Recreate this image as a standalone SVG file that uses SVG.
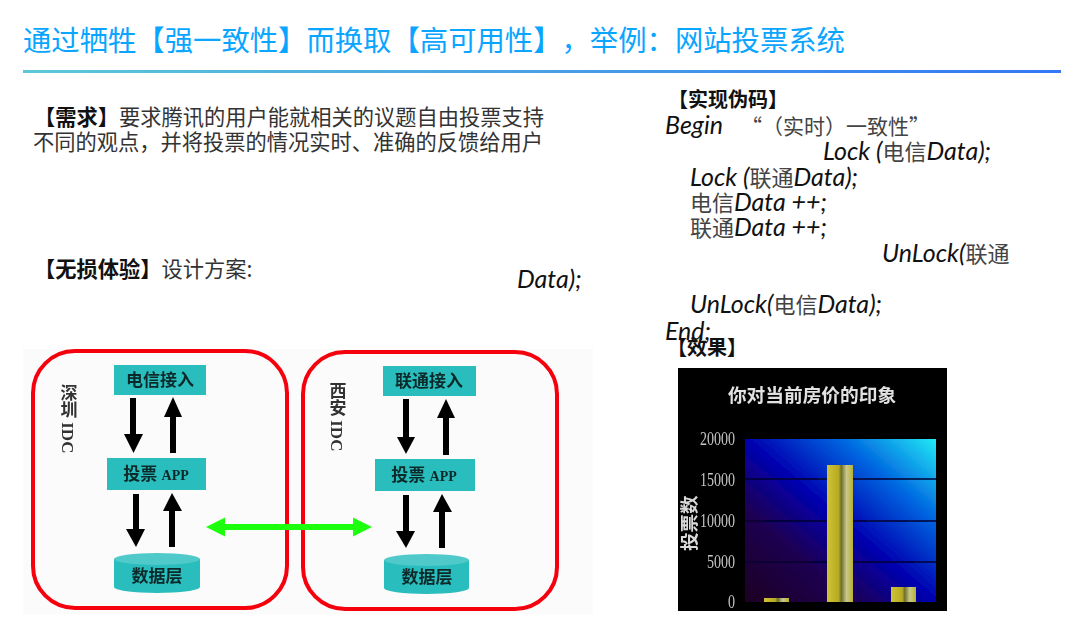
<svg xmlns="http://www.w3.org/2000/svg" width="1080" height="623" viewBox="0 0 1080 623" xml:lang="zh-CN">
<style>
text{font-family:"Noto Sans CJK SC","Liberation Sans",sans-serif;text-spacing-trim:space-all}
.title{font-size:28.35px;fill:#0aa5ff}
.body{font-size:21.25px;fill:#333}
.b{font-weight:700;fill:#111}
.hdg{font-size:20px;font-weight:700;fill:#111}
.hand{font-family:"Lato","Noto Sans CJK SC",sans-serif;font-style:italic;font-size:25px;fill:#111}
.hz{font-style:normal;fill:#444;font-family:"Noto Sans CJK SC",sans-serif;font-size:22px}
.box{fill:#2bbdbd}
.ntext{font-size:17px;font-weight:700;fill:#0c2a2a;text-anchor:middle;font-family:"Liberation Serif","Noto Sans CJK SC",serif}
.app{font-size:14px}
.vl{font-family:"Liberation Serif","Noto Sans CJK SC",serif;font-size:17px;font-weight:700;fill:#333;writing-mode:vertical-rl}
.zone{fill:none;stroke:#f5000f;stroke-width:4}
.tick{font-family:"Liberation Serif",serif;font-size:19px;fill:#c4c4c4;text-anchor:end}
.grid{stroke:#000030;stroke-width:1.6}
.bk{stroke:#000;stroke-width:6;fill:none}
.hd{fill:#000}
</style>
<defs>
<linearGradient id="rule" x1="0" x2="1" y1="0" y2="0"><stop offset="0" stop-color="#5cc8d6"/><stop offset="1" stop-color="#3377f5"/></linearGradient>
<linearGradient id="plot" x1="0" y1="1" x2="1" y2="0"><stop offset="0" stop-color="#1c0022"/><stop offset="0.28" stop-color="#1e0050"/><stop offset="0.5" stop-color="#0000b0"/><stop offset="0.75" stop-color="#0066e0"/><stop offset="1" stop-color="#22eaf5"/></linearGradient>
<linearGradient id="bar" x1="0" x2="1" y1="0" y2="0"><stop offset="0" stop-color="#cfc436"/><stop offset="0.45" stop-color="#b5aa22"/><stop offset="0.55" stop-color="#6d6d30"/><stop offset="0.75" stop-color="#c9c98a"/><stop offset="1" stop-color="#b9b030"/></linearGradient>
<filter id="soft" x="-2%" y="-2%" width="104%" height="104%"><feGaussianBlur stdDeviation="0.45"/></filter>
</defs>
<rect width="1080" height="623" fill="#fff"/>

<g id="header">
<text class="title" x="23" y="51">通过牺牲【强一致性】而换取【高可用性】，举例：网站投票系统</text>
<rect x="23" y="70" width="1038" height="3" fill="url(#rule)"/>
</g>

<g id="requirement">
<text class="body" x="34" y="125"><tspan class="b">【需求】</tspan>要求腾讯的用户能就相关的议题自由投票支持</text>
<text class="body" x="33" y="150">不同的观点，并将投票的情况实时、准确的反馈给用户</text>
</g>
<g id="lossless"><text class="body" x="34" y="277"><tspan class="b">【无损体验】</tspan>设计方案:</text></g>

<g id="pseudocode">
<text class="hdg" x="668" y="107">【实现伪码】</text>
<text class="hand" x="665" y="134">Begin</text>
<text class="hz" style="font-size:21px" x="741 762 783 804 825 846 867 888" y="134">“（实时）一致性”</text>
<text class="hand" x="823" y="160">Lock (<tspan class="hz">电信</tspan>Data);</text>
<text class="hand" x="690" y="186">Lock (<tspan class="hz">联通</tspan>Data);</text>
<text class="hand" x="690" y="211"><tspan class="hz">电信</tspan>Data ++;</text>
<text class="hand" x="690" y="236"><tspan class="hz">联通</tspan>Data ++;</text>
<text class="hand" x="882" y="262">UnLock(<tspan class="hz">联通</tspan></text>
<text class="hand" x="517" y="288">Data);</text>
<text class="hand" x="690" y="313">UnLock(<tspan class="hz">电信</tspan>Data);</text>
<text class="hand" x="665" y="340">End;</text>
<text class="hdg" x="667" y="355">【效果】</text>
</g>

<g filter="url(#soft)">
<rect x="23" y="349" width="570" height="265" fill="#fbfbfb"/>
<g id="idc-shenzhen">
<rect class="zone" x="33" y="351" width="254" height="257" rx="42"/>
<text class="vl" x="67" y="384">深圳 IDC</text>
</g>
<g id="idc-xian">
<rect class="zone" x="303" y="352" width="254" height="257" rx="42"/>
<text class="vl" x="336" y="382">西安 IDC</text>
</g>
<g id="sz-telecom"><rect class="box" x="114" y="365" width="92" height="30"/><text class="ntext" x="160" y="386">电信接入</text></g>
<g id="sz-app"><rect class="box" x="107" y="458" width="99" height="32"/><text class="ntext" x="156" y="480">投票 <tspan class="app">APP</tspan></text></g>
<g id="sz-data"><path class="box" d="M114 559V587A43 6 0 0 0 200 587V559Z"/><ellipse cx="157" cy="559" rx="43" ry="6" fill="#4fc9c9"/><text class="ntext" x="157" y="582">数据层</text></g>
<g id="xa-unicom"><rect class="box" x="383" y="366" width="93" height="30"/><text class="ntext" x="429" y="387">联通接入</text></g>
<g id="xa-app"><rect class="box" x="375" y="459" width="100" height="32"/><text class="ntext" x="424" y="481">投票 <tspan class="app">APP</tspan></text></g>
<g id="xa-data"><path class="box" d="M384 560V588A42.500 6 0 0 0 469 588V560Z"/><ellipse cx="426.500" cy="560" rx="42.500" ry="6" fill="#4fc9c9"/><text class="ntext" x="427" y="583">数据层</text></g>
<g id="connectors">
<path class="bk" d="M133 398V436"/><path class="hd" d="M124 434H143L133.500 453Z"/>
<path class="bk" d="M173 453V415"/><path class="hd" d="M164 417H182L173 397Z"/>
<path class="bk" d="M136 494V531"/><path class="hd" d="M126 529H145L136 547Z"/>
<path class="bk" d="M172 547V509"/><path class="hd" d="M163 511H182L172 493Z"/>
<path class="bk" d="M406 399V439"/><path class="hd" d="M397 437H415L406 454Z"/>
<path class="bk" d="M446 455V416"/><path class="hd" d="M437 418H455L446 399Z"/>
<path class="bk" d="M406 495V533"/><path class="hd" d="M396 531H415L406 548Z"/>
<path class="bk" d="M442 548V510"/><path class="hd" d="M433 512H452L442 494Z"/>
<path d="M220 527H358" stroke="#1fff0f" stroke-width="6" fill="none"/>
<path d="M225 517.500V536.500L206 527Z M353 517.500V536.500L372 527Z" fill="#1fff0f"/>
</g>
</g>

<g id="chart" filter="url(#soft)">
<rect x="678" y="368" width="269" height="243" fill="#000"/>
<rect x="745" y="439" width="191" height="163" fill="url(#plot)"/>
<path class="grid" d="M745 479H936M745 521H936M745 562H936"/>
<rect x="764" y="598" width="25" height="4" fill="url(#bar)"/>
<rect x="827" y="465" width="26" height="137" fill="url(#bar)"/>
<rect x="891" y="587" width="25" height="15" fill="url(#bar)"/>
<text x="812" y="402" font-size="18.700" font-weight="700" fill="#e2e2e2" text-anchor="middle">你对当前房价的印象</text>
<text class="tick" x="735" y="445" textLength="35" lengthAdjust="spacingAndGlyphs">20000</text>
<text class="tick" x="735" y="486" textLength="35" lengthAdjust="spacingAndGlyphs">15000</text>
<text class="tick" x="735" y="527" textLength="35" lengthAdjust="spacingAndGlyphs">10000</text>
<text class="tick" x="735" y="568" textLength="28" lengthAdjust="spacingAndGlyphs">5000</text>
<text class="tick" x="735" y="608" textLength="7" lengthAdjust="spacingAndGlyphs">0</text>
<text transform="translate(696 551) rotate(-90)" font-size="18.500" font-weight="700" fill="#d8d8d8">投票数</text>
</g>
</svg>
